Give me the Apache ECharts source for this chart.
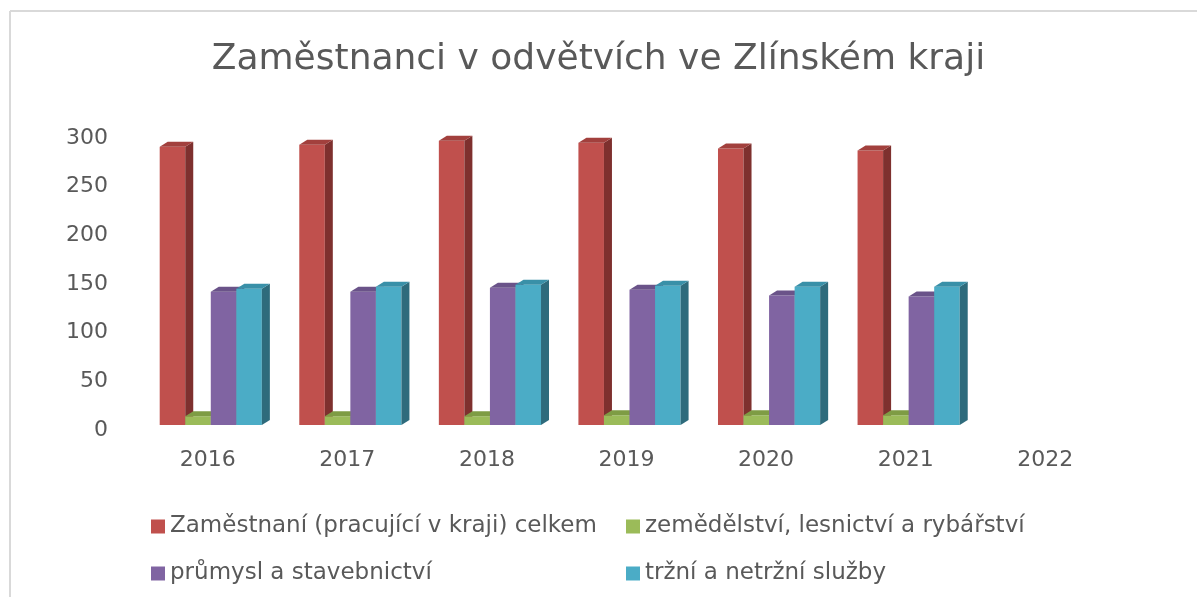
<!DOCTYPE html>
<html>
<head>
<meta charset="utf-8">
<script src="https://cdn.jsdelivr.net/npm/echarts@6/dist/echarts.min.js"></script>
<style>html,body{margin:0;padding:0;background:#fff}#c{width:1197px;height:597px}</style>
</head>
<body>
<div id="c"></div>
<script>
var years = ['2016', '2017', '2018', '2019', '2020', '2021', '2022'];
var celkem = [286, 288, 292, 290, 284, 282];
var zemedelstvi = [9, 9, 9, 10, 10, 10];
var prumysl = [137, 137, 141, 139, 133, 132];
var sluzby = [140, 142, 144, 143, 142, 142];
var seriesNames = [
  'Zaměstnaní (pracující v kraji) celkem',
  'zemědělství, lesnictví a rybářství',
  'průmysl a stavebnictví',
  'tržní a netržní služby'
];
var yTicks = [0, 50, 100, 150, 200, 250, 300];

var FONT = 'DejaVu Sans';
var palette = [
  {front: '#C0504D', side: '#7E302E', top: '#A2403D'},
  {front: '#9BBB59', side: '#6C853B', top: '#7E9C44'},
  {front: '#8064A2', side: '#5A4677', top: '#6A5389'},
  {front: '#4BACC6', side: '#2E6B7C', top: '#3990A8'}
];
var allData = [celkem, zemedelstvi, prumysl, sluzby];

function makeRender(idx) {
  var c = palette[idx];
  return function (params, api) {
    var cat = api.value(0), v = api.value(1);
    var base = api.coord([cat, 0]);
    var top = api.coord([cat, v]);
    var band = api.size([1, 0])[0];
    var bw = band * 0.183;
    var x0 = base[0] - 2 * bw + idx * bw;
    var dx = 8, dy = 5;
    var yb = base[1], yt = top[1];
    return {
      type: 'group',
      children: [
        {type: 'rect', shape: {x: x0, y: yt, width: bw, height: yb - yt}, style: {fill: c.front}},
        {type: 'polygon', shape: {points: [[x0 + bw, yt], [x0 + bw + dx, yt - dy], [x0 + bw + dx, yb - dy], [x0 + bw, yb]]}, style: {fill: c.side}},
        {type: 'polygon', shape: {points: [[x0, yt], [x0 + dx, yt - dy], [x0 + bw + dx, yt - dy], [x0 + bw, yt]]}, style: {fill: c.top}}
      ]
    };
  };
}

var series = allData.map(function (arr, idx) {
  return {
    type: 'custom',
    name: seriesNames[idx],
    color: palette[idx].front,
    itemStyle: {color: palette[idx].front},
    renderItem: makeRender(idx),
    encode: {x: 0, y: 1},
    data: arr.map(function (v, i) { return [i, v]; })
  };
});

var legendPos = [
  {left: 146, top: 510},
  {left: 621, top: 510},
  {left: 146, top: 557},
  {left: 621, top: 557}
];
var legends = seriesNames.map(function (n, i) {
  return {
    data: [{name: n, icon: 'rect'}],
    left: legendPos[i].left,
    top: legendPos[i].top,
    itemWidth: 14, itemHeight: 14, itemGap: 8,
    selectedMode: false,
    textStyle: {fontSize: 23, color: '#595959', fontFamily: FONT}
  };
});

var chart = echarts.init(document.getElementById('c'), null, {renderer: 'canvas'});
chart.setOption({
  animation: false,
  backgroundColor: '#fff',
  title: {
    text: 'Zaměstnanci v odvětvích ve Zlínském kraji',
    left: 'center', top: 37,
    textStyle: {fontSize: 36, fontWeight: 'normal', color: '#595959', fontFamily: FONT}
  },
  legend: legends,
  grid: {left: 141, width: 977, top: 133, bottom: 172, containLabel: false},
  xAxis: {
    type: 'category',
    data: years,
    axisLine: {show: false},
    axisTick: {show: false},
    axisLabel: {fontSize: 22, color: '#595959', margin: 24, padding: [0, 6, 0, 0], fontFamily: FONT}
  },
  yAxis: {
    type: 'value',
    min: yTicks[0], max: yTicks[yTicks.length - 1], interval: 50,
    splitLine: {show: false},
    axisLine: {show: false},
    axisTick: {show: false},
    axisLabel: {fontSize: 22, color: '#595959', margin: 33, verticalAlign: 'top', lineHeight: 10, fontFamily: FONT}
  },
  graphic: [
    {type: 'line', shape: {x1: 10, y1: 11, x2: 1197, y2: 11}, style: {stroke: '#D9D9D9', lineWidth: 2}},
    {type: 'line', shape: {x1: 10, y1: 11, x2: 10, y2: 597}, style: {stroke: '#D9D9D9', lineWidth: 2}}
  ],
  series: series
});
</script>
</body>
</html>
